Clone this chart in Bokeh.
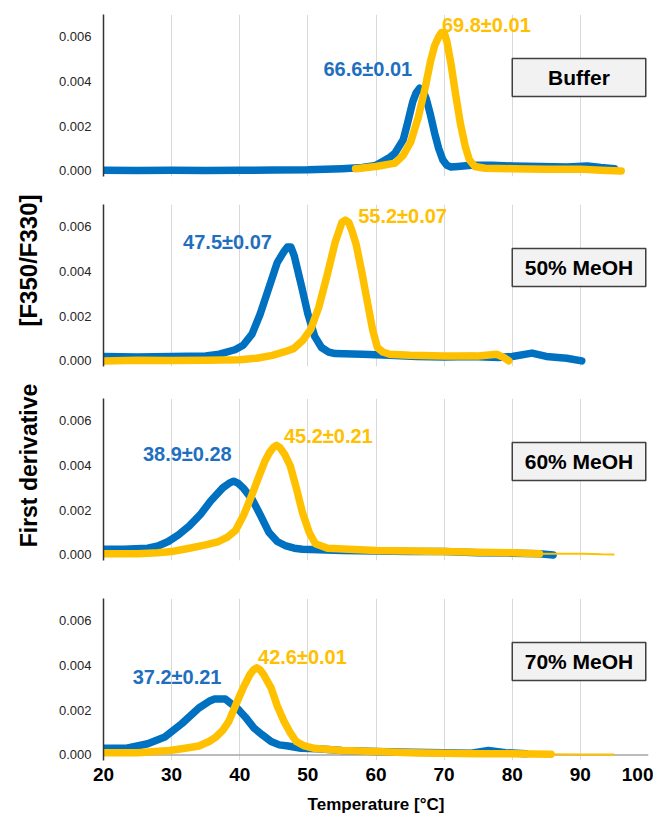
from bokeh.plotting import figure
from bokeh.models import Range1d, FixedTicker, PrintfTickFormatter, Label, BoxAnnotation, Span
from bokeh.layouts import row, column
from bokeh.embed import file_html
from bokeh.resources import INLINE
import math

FONT = "Liberation Sans"
BLUE = "#0070C0"
YELLOW = "#FFC000"
BLUE_TXT = "#1F6FBF"

# ---------------- data ----------------
panel_names = ["Buffer", "50% MeOH", "60% MeOH", "70% MeOH"]
blue_labels = ["66.6\u00b10.01", "47.5\u00b10.07", "38.9\u00b10.28", "37.2\u00b10.21"]
yellow_labels = ["69.8\u00b10.01", "55.2\u00b10.07", "45.2\u00b10.21", "42.6\u00b10.01"]
x_ticks = [20, 30, 40, 50, 60, 70, 80, 90, 100]
y_ticks = [0.000, 0.002, 0.004, 0.006]

buffer_blue_T = [20, 25, 30, 35, 40, 45, 50, 55, 58, 60, 62, 62.8, 64, 64.6, 65.4, 65.9, 66.4, 66.9, 67.4, 68, 68.6, 69.2, 69.8, 70.4, 71, 72, 74, 77, 80, 84, 88, 91, 93, 95]
buffer_blue_v = [0.00003, 0.00002, 0.00003, 0.00002, 0.00003, 0.00004, 0.00005, 0.0001, 0.00015, 0.00025, 0.0006, 0.0008, 0.0014, 0.0021, 0.0031, 0.0035, 0.0037, 0.0036, 0.0032, 0.0025, 0.0017, 0.001, 0.0005, 0.00025, 0.00018, 0.0002, 0.00025, 0.00025, 0.00022, 0.0002, 0.00018, 0.00022, 0.00015, 0.0001]
buffer_yellow_T = [57, 60, 62.8, 64, 65.1, 66.2, 67.2, 68, 68.6, 69.2, 69.6, 70.0, 70.4, 71, 71.7, 72.4, 73.1, 73.7, 74.5, 76, 80, 85, 90, 93, 96]
buffer_yellow_v = [0.0001, 0.0002, 0.00035, 0.0007, 0.0013, 0.0024, 0.0037, 0.0049, 0.0056, 0.006, 0.0062, 0.0062, 0.0058, 0.0048, 0.0034, 0.0021, 0.0011, 0.0005, 0.0002, 0.00012, 0.0001, 0.00008, 0.00008, 0.00003, 0.0]

meoh50_blue_T = [20, 25, 30, 35, 37, 39.3, 40.5, 41.8, 43, 44.2, 45.5, 46.5, 47.0, 47.5, 48, 49.1, 50, 51, 52, 53, 54, 58, 62, 66, 70, 74, 78, 80, 82.9, 85, 88, 90.2]
meoh50_blue_v = [0.0002, 0.00018, 0.0002, 0.00022, 0.0003, 0.0005, 0.0007, 0.0012, 0.0021, 0.0032, 0.0044, 0.0049, 0.0051, 0.0051, 0.0047, 0.0033, 0.0021, 0.0011, 0.0006, 0.0004, 0.00033, 0.0003, 0.00025, 0.0002, 0.00018, 0.0002, 0.00015, 0.0002, 0.00035, 0.0002, 0.00012, 0.0]
meoh50_yellow_T = [20, 25, 30, 35, 40, 42.5, 44.8, 46.5, 47.9, 49.2, 50.4, 51.6, 52.8, 54, 55, 55.5, 56.0, 56.5, 57.1, 57.9, 58.7, 59.5, 60.2, 61, 62, 65, 70, 75, 77.7, 78.8, 79.5]
meoh50_yellow_v = [0.0, 0.00003, 0.00002, 0.00003, 0.00005, 0.00012, 0.00025, 0.0004, 0.00055, 0.0009, 0.0014, 0.0024, 0.0038, 0.0053, 0.0062, 0.0063, 0.0062, 0.0058, 0.0052, 0.004, 0.0027, 0.0014, 0.0006, 0.0004, 0.0003, 0.00025, 0.00022, 0.00022, 0.0003, 0.00015, 0.0]

meoh60_blue_T = [20, 23, 26.5, 28, 29.5, 31, 32.6, 34.2, 35.7, 37.5, 38.4, 39.1, 39.8, 40.5, 41.8, 43, 44.3, 45.5, 46.8, 48, 49.2, 55, 60, 65, 70, 75, 80, 84, 86]
meoh60_blue_v = [0.00025, 0.00025, 0.0003, 0.0004, 0.0006, 0.0009, 0.0013, 0.0018, 0.0024, 0.003, 0.0032, 0.0033, 0.0032, 0.003, 0.0025, 0.0018, 0.001, 0.0006, 0.0004, 0.0003, 0.00025, 0.0002, 0.00018, 0.00015, 0.00015, 0.0001, 0.00008, 0.00005, 0.0]
meoh60_yellow_T = [20, 25, 28, 30, 32.6, 35, 36.9, 38.2, 39.4, 40.6, 41.8, 42.8, 43.7, 44.4, 44.9, 45.4, 45.9, 46.6, 47.4, 48.3, 49.2, 50.2, 51.1, 52.9, 56, 60, 65, 70, 75, 80, 84]
meoh60_yellow_v = [0.00005, 0.00005, 0.0001, 0.00015, 0.0003, 0.00045, 0.0006, 0.0008, 0.0011, 0.0018, 0.0027, 0.0035, 0.0042, 0.0046, 0.0048, 0.0049, 0.0048, 0.0045, 0.004, 0.003, 0.0019, 0.001, 0.0005, 0.0003, 0.00025, 0.0002, 0.00018, 0.00015, 0.00012, 0.0001, 0.00005]
meoh60_yellow_tail_T = [84, 88, 90.5, 93, 95]
meoh60_yellow_tail_v = [0.00005, 0.00005, 0.00005, 0.00003, 0.00002]

meoh70_blue_T = [20, 23.4, 26.5, 29, 31.5, 34, 35.5, 36.3, 37.1, 37.9, 38.7, 39.6, 40.8, 42.1, 43.3, 44.6, 45.8, 47.1, 49, 51.4, 55, 60, 65, 70, 74, 76.5, 79, 82]
meoh70_blue_v = [0.0003, 0.0003, 0.0005, 0.0008, 0.0014, 0.0021, 0.0024, 0.0025, 0.0025, 0.0025, 0.0023, 0.0021, 0.0017, 0.0012, 0.0009, 0.0006, 0.00045, 0.0004, 0.0003, 0.00028, 0.0002, 0.00015, 0.00012, 0.0001, 0.00008, 0.0002, 0.0001, 0.00005]
meoh70_yellow_T = [20, 25, 29.7, 32, 34, 35.5, 36.5, 37.5, 38.4, 39.5, 40.5, 41.5, 42.0, 42.5, 43.0, 43.5, 44.6, 45.5, 46.5, 47.4, 48.3, 49.5, 50.8, 55, 60, 65, 70, 75, 80, 85.7]
meoh70_yellow_v = [0.0001, 0.0001, 0.0002, 0.0003, 0.0004, 0.0006, 0.0008, 0.0011, 0.0015, 0.0023, 0.003, 0.0036, 0.0038, 0.0039, 0.0038, 0.0036, 0.003, 0.0022, 0.0015, 0.001, 0.0006, 0.0004, 0.0003, 0.0002, 0.00015, 0.0001, 0.00008, 0.00005, 0.00005, 0.00003]
meoh70_yellow_tail_T = [85.7, 90, 95]
meoh70_yellow_tail_v = [0.00003, 0.00002, 0.00002]

series = [
    (buffer_blue_T, buffer_blue_v, buffer_yellow_T, buffer_yellow_v, None, None),
    (meoh50_blue_T, meoh50_blue_v, meoh50_yellow_T, meoh50_yellow_v, None, None),
    (meoh60_blue_T, meoh60_blue_v, meoh60_yellow_T, meoh60_yellow_v, meoh60_yellow_tail_T, meoh60_yellow_tail_v),
    (meoh70_blue_T, meoh70_blue_v, meoh70_yellow_T, meoh70_yellow_v, meoh70_yellow_tail_T, meoh70_yellow_tail_v),
]

# label positions (x in degC, y in data units)
blue_label_pos = [(58.8, 0.00455), (38.2, 0.0053), (32.3, 0.0045), (30.8, 0.0035)]
yellow_label_pos = [(76.2, 0.00655), (63.9, 0.0065), (53.0, 0.0053), (49.2, 0.0044)]

# ---------------- layout ----------------
heights = [198, 194, 200, 228]
tops = [14, 6, 6, 6]
bottoms = [22, 26, 32, 60]
x_range = Range1d(20, 100)

panels = []
for i in range(4):
    show_x = (i == 3)
    p = figure(width=605, height=heights[i], x_range=x_range,
               y_range=Range1d(-0.00025, 0.007),
               output_backend="svg", toolbar_location=None,
               min_border_left=55, min_border_right=5,
               min_border_top=tops[i], min_border_bottom=bottoms[i])
    p.outline_line_color = None
    p.background_fill_color = "white"
    p.border_fill_color = "white"
    # grid
    p.ygrid.grid_line_color = None
    p.xgrid.ticker = FixedTicker(ticks=x_ticks)
    p.xgrid.grid_line_color = "#D9D9D9"
    p.xgrid.grid_line_width = 1
    # y axis
    p.yaxis.ticker = FixedTicker(ticks=y_ticks)
    p.yaxis.formatter = PrintfTickFormatter(format="%.3f")
    p.yaxis.major_tick_line_color = None
    p.yaxis.minor_tick_line_color = None
    p.yaxis.major_tick_out = 0
    p.yaxis.major_label_standoff = 12
    p.yaxis.major_label_text_font = FONT
    p.yaxis.major_label_text_font_size = "13px"
    p.yaxis.major_label_text_color = "#262626"
    p.yaxis.axis_line_color = "#333333"
    p.yaxis.axis_line_width = 1.5
    # x axis
    if show_x:
        p.xaxis.ticker = FixedTicker(ticks=x_ticks)
        p.xaxis.axis_line_color = None
        p.xaxis.major_tick_line_color = None
        p.xaxis.minor_tick_line_color = None
        p.xaxis.major_tick_out = 0
        p.xaxis.major_label_standoff = 7
        p.xaxis.major_label_text_font = FONT
        p.xaxis.major_label_text_font_style = "bold"
        p.xaxis.major_label_text_font_size = "19px"
        p.xaxis.major_label_text_color = "black"
        p.xaxis.axis_label = "Temperature [\u00b0C]"
        p.xaxis.axis_label_standoff = 11
        p.xaxis.axis_label_text_font = FONT
        p.xaxis.axis_label_text_font_style = "bold"
        p.xaxis.axis_label_text_font_size = "17px"
        p.xaxis.axis_label_text_color = "black"
        p.add_layout(Span(location=0, dimension="width", line_color="#A6A6A6",
                          line_width=1.5, level="underlay"))
    else:
        p.xaxis.visible = False

    bT, bv, yT, yv, tT, tv = series[i]
    p.line(bT, bv, line_color=BLUE, line_width=7.5, line_join="round", line_cap="round")
    if tT is not None:
        p.line(tT, tv, line_color=YELLOW, line_width=2)
    p.line(yT, yv, line_color=YELLOW, line_width=7.5, line_join="round", line_cap="round")

    bx, by = blue_label_pos[i]
    p.add_layout(Label(x=bx, y=by, text=blue_labels[i], text_color=BLUE_TXT,
                       text_font=FONT, text_font_style="bold", text_font_size="20px",
                       text_align="center", text_baseline="middle"))
    yx, yy = yellow_label_pos[i]
    p.add_layout(Label(x=yx, y=yy, text=yellow_labels[i], text_color=YELLOW,
                       text_font=FONT, text_font_style="bold", text_font_size="20px",
                       text_align="center", text_baseline="middle"))

    p.add_layout(BoxAnnotation(left=80, right=99.6, bottom=0.00333, top=0.00503,
                               fill_color="#F2F2F2", fill_alpha=1.0,
                               line_color="#404040", line_width=1.5, line_alpha=1.0))
    p.add_layout(Label(x=89.8, y=0.00418, text=panel_names[i], text_color="black",
                       text_font=FONT, text_font_style="bold", text_font_size="21px",
                       text_align="center", text_baseline="middle"))
    panels.append(p)

total_h = sum(heights)
lab = figure(width=48, height=total_h, x_range=Range1d(0, 1), y_range=Range1d(0, 1),
             output_backend="svg", toolbar_location=None,
             min_border_left=0, min_border_right=0, min_border_top=0, min_border_bottom=0)
lab.axis.visible = False
lab.grid.visible = False
lab.outline_line_color = None
lab.add_layout(Label(x=28, y=total_h - 465, x_units="screen", y_units="screen",
                     text="First derivative", angle=math.pi / 2,
                     text_font=FONT, text_font_style="bold", text_font_size="23px",
                     text_color="black", text_align="center", text_baseline="middle"))
lab.add_layout(Label(x=28, y=total_h - 260, x_units="screen", y_units="screen",
                     text="[F350/F330]", angle=math.pi / 2,
                     text_font=FONT, text_font_style="bold", text_font_size="24px",
                     text_color="black", text_align="center", text_baseline="middle"))

layout = row(lab, column(*panels))
open("out.html", "w").write(file_html(layout, INLINE))
